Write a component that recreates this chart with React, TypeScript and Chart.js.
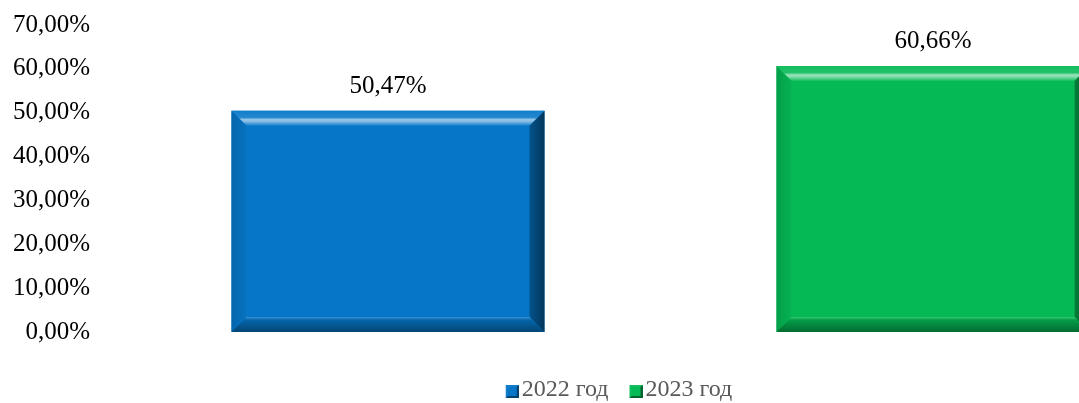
import React, { useEffect, useRef } from 'react';
import { Chart, registerables } from 'chart.js';

Chart.register(...registerables);

// ---- data ----
const categories: string[] = ['2022 год', '2023 год'];
const values: number[] = [50.47, 60.66];
const positions: number[] = [0, 1];
const colors: string[] = ['#0677C8', '#05B955'];
const yTickValues: number[] = [0, 10, 20, 30, 40, 50, 60, 70];

const fmt = (v: number) => v.toFixed(2).replace('.', ',') + '%';
const FONT = '"Liberation Serif", "Times New Roman", serif';

function hexToRgb(h: string): [number, number, number] {
  const n = parseInt(h.slice(1), 16);
  return [(n >> 16) & 255, (n >> 8) & 255, n & 255];
}
function lighten(h: string, t: number) {
  const [r, g, b] = hexToRgb(h);
  return `rgb(${Math.round(r + (255 - r) * t)},${Math.round(g + (255 - g) * t)},${Math.round(b + (255 - b) * t)})`;
}
function darken(h: string, t: number) {
  const [r, g, b] = hexToRgb(h);
  return `rgb(${Math.round(r * (1 - t))},${Math.round(g * (1 - t))},${Math.round(b * (1 - t))})`;
}

// legend marker: small bevelled square placed at the right/bottom of a wider transparent image
function makeMarker(c: string): HTMLCanvasElement {
  const cv = document.createElement('canvas');
  cv.width = 38;
  cv.height = 16;
  const ctx = cv.getContext('2d')!;
  const x0 = 25, y0 = 3, s = 13;
  ctx.fillStyle = lighten(c, 0.05);
  ctx.fillRect(x0, y0, s, s);
  ctx.fillStyle = darken(c, 0.45);
  ctx.beginPath();
  ctx.moveTo(x0 + s, y0);
  ctx.lineTo(x0 + s, y0 + s);
  ctx.lineTo(x0, y0 + s);
  ctx.closePath();
  ctx.fill();
  ctx.fillStyle = c;
  ctx.fillRect(x0 + 2, y0 + 2, s - 4, s - 4);
  return cv;
}

const bevelPlugin = {
  id: 'bevel',
  afterDatasetsDraw(chart: any) {
    const ctx = chart.ctx as CanvasRenderingContext2D;
    const B = 15;
    chart.data.datasets.forEach((ds: any, di: number) => {
      const meta = chart.getDatasetMeta(di);
      const c = ds.backgroundColor as string;
      meta.data.forEach((el: any) => {
        const { x, y, base, width } = el.getProps(['x', 'y', 'base', 'width'], true);
        const l = x - width / 2, r = x + width / 2, t = y, b = base;
        ctx.save();
        // top
        let g = ctx.createLinearGradient(0, t, 0, t + B);
        g.addColorStop(0, lighten(c, 0.05));
        g.addColorStop(0.45, lighten(c, 0.12));
        g.addColorStop(0.6, lighten(c, 0.6));
        g.addColorStop(0.72, lighten(c, 0.5));
        g.addColorStop(1, lighten(c, 0.06));
        ctx.fillStyle = g;
        ctx.beginPath();
        ctx.moveTo(l, t); ctx.lineTo(r, t); ctx.lineTo(r - B, t + B); ctx.lineTo(l + B, t + B); ctx.closePath();
        ctx.fill();
        // left
        g = ctx.createLinearGradient(l, 0, l + B, 0);
        g.addColorStop(0, darken(c, 0.14));
        g.addColorStop(1, darken(c, 0.04));
        ctx.fillStyle = g;
        ctx.beginPath();
        ctx.moveTo(l, t); ctx.lineTo(l + B, t + B); ctx.lineTo(l + B, b - B); ctx.lineTo(l, b); ctx.closePath();
        ctx.fill();
        // right
        g = ctx.createLinearGradient(r - B, 0, r, 0);
        g.addColorStop(0, darken(c, 0.3));
        g.addColorStop(1, darken(c, 0.55));
        ctx.fillStyle = g;
        ctx.beginPath();
        ctx.moveTo(r, t); ctx.lineTo(r - B, t + B); ctx.lineTo(r - B, b - B); ctx.lineTo(r, b); ctx.closePath();
        ctx.fill();
        // bottom
        g = ctx.createLinearGradient(0, b - B, 0, b);
        g.addColorStop(0, lighten(c, 0.2));
        g.addColorStop(0.2, darken(c, 0.15));
        g.addColorStop(1, darken(c, 0.42));
        ctx.fillStyle = g;
        ctx.beginPath();
        ctx.moveTo(l, b); ctx.lineTo(r, b); ctx.lineTo(r - B, b - B); ctx.lineTo(l + B, b - B); ctx.closePath();
        ctx.fill();
        ctx.restore();
      });
    });
  },
};

const labelPlugin = {
  id: 'valueLabels',
  afterDatasetsDraw(chart: any) {
    const ctx = chart.ctx as CanvasRenderingContext2D;
    ctx.save();
    ctx.font = `25px ${FONT}`;
    ctx.fillStyle = '#000';
    ctx.textAlign = 'center';
    ctx.textBaseline = 'alphabetic';
    chart.data.datasets.forEach((ds: any, di: number) => {
      const meta = chart.getDatasetMeta(di);
      meta.data.forEach((el: any, i: number) => {
        const { x, y } = el.getProps(['x', 'y'], true);
        const v = ds.data[i].y as number;
        ctx.fillText(fmt(v), x, y - 18);
      });
    });
    ctx.restore();
  },
};

export default function App() {
  const ref = useRef<HTMLCanvasElement | null>(null);
  useEffect(() => {
    document.body.style.margin = '0';
    if (!ref.current) return;
    const chart = new Chart(ref.current, {
      type: 'bar',
      data: {
        datasets: categories.map((cat, i) => ({
          label: cat,
          data: [{ x: positions[i], y: values[i] }],
          backgroundColor: colors[i],
          pointStyle: makeMarker(colors[i]),
          borderWidth: 0,
          grouped: false,
          barPercentage: 0.5743,
          categoryPercentage: 1,
          xAxisID: 'x',
          yAxisID: 'y',
        })),
      },
      options: {
        animation: false,
        responsive: false,
        devicePixelRatio: 1,
        layout: { padding: { top: 25, right: 0, bottom: 0, left: 0 } },
        plugins: {
          tooltip: { enabled: false },
          legend: {
            position: 'bottom',
            fullSize: false,
            labels: {
              font: { family: FONT, size: 24 },
              color: '#595959',
              usePointStyle: true,
              pointStyleWidth: 20,
              padding: 5,
            },
          },
        },
        scales: {
          x: {
            type: 'linear',
            offset: false,
            min: -0.4495,
            max: 1.2679,
            grid: { display: false },
            border: { display: false },
            ticks: { display: false, stepSize: 1, includeBounds: false },
            afterFit: (s: any) => { s.height = 41; },
          },
          ySpacer: {
            type: 'linear',
            position: 'left',
            display: true,
            grid: { display: false },
            border: { display: false },
            ticks: { display: false },
            afterFit: (s: any) => { s.width = 53; },
          },
          y: {
            type: 'linear',
            position: 'left',
            min: 0,
            max: 70,
            afterBuildTicks: (s: any) => { s.ticks = yTickValues.map((v) => ({ value: v })); },
            grid: { display: false, drawTicks: false },
            border: { display: false },
            ticks: {
              padding: 0,
              color: '#000',
              font: { family: FONT, size: 25 },
              callback: (v: any) => fmt(Number(v)),
            },
            afterFit: (s: any) => { s.width = 90; },
          },
        },
      } as any,
      plugins: [bevelPlugin, labelPlugin],
    });
    return () => chart.destroy();
  }, []);
  return (
    <div style={{ width: 1079, height: 403, overflow: 'hidden', position: 'relative', background: '#fff' }}>
      <canvas ref={ref} width={1079} height={412} />
    </div>
  );
}
